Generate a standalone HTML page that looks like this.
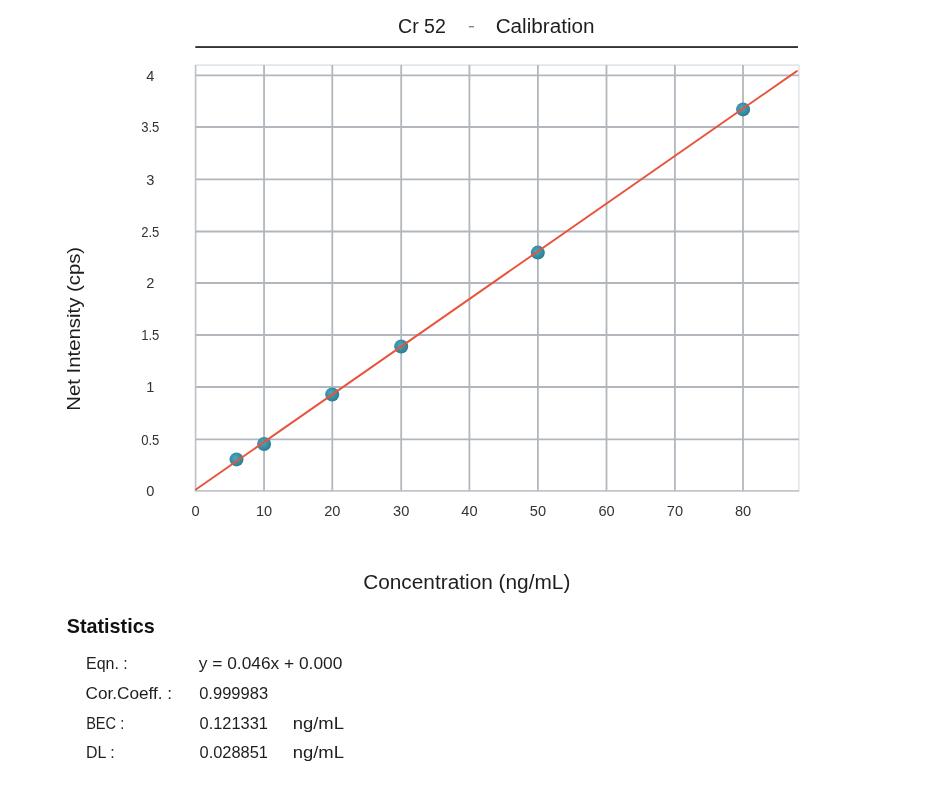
<!DOCTYPE html><html><head><meta charset="utf-8"><style>html,body{margin:0;padding:0;background:#fff;}svg{display:block;will-change:transform}text{font-family:"Liberation Sans",sans-serif;}</style></head><body>
<svg width="931" height="786" viewBox="0 0 931 786">
<rect width="931" height="786" fill="#fff"/>
<rect x="195.3" y="46.1" width="602.7" height="1.9" fill="#333"/>
<rect x="468.9" y="26.0" width="5.1" height="1.4" fill="#858585"/>
<line x1="195.5" y1="65.1" x2="798.9" y2="65.1" stroke="#e3e6e9" stroke-width="1.6"/>
<line x1="798.9" y1="65.1" x2="798.9" y2="491.7" stroke="#e3e6e9" stroke-width="1.6"/>
<line x1="195.60" y1="65.1" x2="195.60" y2="491.7" stroke="#c2c6cb" stroke-width="1.8"/>
<line x1="264.05" y1="65.1" x2="264.05" y2="491.7" stroke="#b2b7bd" stroke-width="1.8"/>
<line x1="332.30" y1="65.1" x2="332.30" y2="491.7" stroke="#b2b7bd" stroke-width="1.8"/>
<line x1="401.20" y1="65.1" x2="401.20" y2="491.7" stroke="#b2b7bd" stroke-width="1.8"/>
<line x1="469.40" y1="65.1" x2="469.40" y2="491.7" stroke="#b2b7bd" stroke-width="1.8"/>
<line x1="537.90" y1="65.1" x2="537.90" y2="491.7" stroke="#b2b7bd" stroke-width="1.8"/>
<line x1="606.50" y1="65.1" x2="606.50" y2="491.7" stroke="#b2b7bd" stroke-width="1.8"/>
<line x1="674.90" y1="65.1" x2="674.90" y2="491.7" stroke="#b2b7bd" stroke-width="1.8"/>
<line x1="743.00" y1="65.1" x2="743.00" y2="491.7" stroke="#b2b7bd" stroke-width="1.8"/>
<line x1="195.5" y1="490.85" x2="798.9" y2="490.85" stroke="#c2c6cb" stroke-width="1.8"/>
<line x1="195.5" y1="439.40" x2="798.9" y2="439.40" stroke="#b2b7bd" stroke-width="1.8"/>
<line x1="195.5" y1="387.00" x2="798.9" y2="387.00" stroke="#b2b7bd" stroke-width="1.8"/>
<line x1="195.5" y1="335.00" x2="798.9" y2="335.00" stroke="#b2b7bd" stroke-width="1.8"/>
<line x1="195.5" y1="283.00" x2="798.9" y2="283.00" stroke="#b2b7bd" stroke-width="1.8"/>
<line x1="195.5" y1="231.50" x2="798.9" y2="231.50" stroke="#b2b7bd" stroke-width="1.8"/>
<line x1="195.5" y1="179.30" x2="798.9" y2="179.30" stroke="#b2b7bd" stroke-width="1.8"/>
<line x1="195.5" y1="127.00" x2="798.9" y2="127.00" stroke="#b2b7bd" stroke-width="1.8"/>
<line x1="195.5" y1="75.40" x2="798.9" y2="75.40" stroke="#b2b7bd" stroke-width="1.8"/>
<text x="150.3" y="496.05" font-size="14.6" fill="#333" text-anchor="middle">0</text>
<text x="150.3" y="444.60" font-size="14.6" fill="#333" text-anchor="middle" textLength="18.2" lengthAdjust="spacingAndGlyphs">0.5</text>
<text x="150.3" y="392.20" font-size="14.6" fill="#333" text-anchor="middle">1</text>
<text x="150.3" y="340.20" font-size="14.6" fill="#333" text-anchor="middle" textLength="18.2" lengthAdjust="spacingAndGlyphs">1.5</text>
<text x="150.3" y="288.20" font-size="14.6" fill="#333" text-anchor="middle">2</text>
<text x="150.3" y="236.70" font-size="14.6" fill="#333" text-anchor="middle" textLength="18.2" lengthAdjust="spacingAndGlyphs">2.5</text>
<text x="150.3" y="184.50" font-size="14.6" fill="#333" text-anchor="middle">3</text>
<text x="150.3" y="132.20" font-size="14.6" fill="#333" text-anchor="middle" textLength="18.2" lengthAdjust="spacingAndGlyphs">3.5</text>
<text x="150.3" y="80.60" font-size="14.6" fill="#333" text-anchor="middle">4</text>
<text x="195.60" y="516" font-size="14.6" fill="#333" text-anchor="middle">0</text>
<text x="264.05" y="516" font-size="14.6" fill="#333" text-anchor="middle">10</text>
<text x="332.30" y="516" font-size="14.6" fill="#333" text-anchor="middle">20</text>
<text x="401.20" y="516" font-size="14.6" fill="#333" text-anchor="middle">30</text>
<text x="469.40" y="516" font-size="14.6" fill="#333" text-anchor="middle">40</text>
<text x="537.90" y="516" font-size="14.6" fill="#333" text-anchor="middle">50</text>
<text x="606.50" y="516" font-size="14.6" fill="#333" text-anchor="middle">60</text>
<text x="674.90" y="516" font-size="14.6" fill="#333" text-anchor="middle">70</text>
<text x="743.00" y="516" font-size="14.6" fill="#333" text-anchor="middle">80</text>
<text id="ytitle" transform="translate(80.1,410.73) rotate(-90)" x="0" y="0" font-size="18.5" fill="#1e1e1e" textLength="163.88" lengthAdjust="spacingAndGlyphs">Net Intensity (cps)</text>
<defs><radialGradient id="g" cx="0.42" cy="0.4" r="0.6"><stop offset="0" stop-color="#4aa8be"/><stop offset="1" stop-color="#2c7e94"/></radialGradient></defs>
<circle cx="236.50" cy="459.40" r="7.0" fill="url(#g)"/>
<circle cx="264.10" cy="444.00" r="7.0" fill="url(#g)"/>
<circle cx="332.20" cy="394.50" r="7.0" fill="url(#g)"/>
<circle cx="401.20" cy="346.50" r="7.0" fill="url(#g)"/>
<circle cx="537.80" cy="252.60" r="7.0" fill="url(#g)"/>
<circle cx="743.10" cy="109.40" r="7.0" fill="url(#g)"/>
<line x1="195.9" y1="489.45" x2="796.8" y2="71.1" stroke="#e9533d" stroke-width="1.9" stroke-linecap="round"/>
<text id="t_cr" x="398.02" y="33.2" font-size="20.0" fill="#1e1e1e" textLength="47.87" lengthAdjust="spacingAndGlyphs">Cr 52</text>
<text id="t_cal" x="495.66" y="33.2" font-size="20.0" fill="#1e1e1e" textLength="98.97" lengthAdjust="spacingAndGlyphs">Calibration</text>
<text id="xtitle" x="363.16" y="589.4" font-size="20.0" fill="#1e1e1e" textLength="207.17" lengthAdjust="spacingAndGlyphs">Concentration (ng/mL)</text>
<text id="stat" x="66.72" y="633.1" font-size="20.2" font-weight="bold" fill="#111" textLength="87.93" lengthAdjust="spacingAndGlyphs">Statistics</text>
<text id="l0" x="86.05" y="669.3" font-size="16.8" fill="#1e1e1e" textLength="41.77" lengthAdjust="spacingAndGlyphs">Eqn. :</text>
<text id="v0" x="198.80" y="669.3" font-size="16.8" fill="#1e1e1e" textLength="143.53" lengthAdjust="spacingAndGlyphs">y = 0.046x + 0.000</text>
<text id="l1" x="85.58" y="698.8" font-size="16.8" fill="#1e1e1e" textLength="86.54" lengthAdjust="spacingAndGlyphs">Cor.Coeff. :</text>
<text id="v1" x="199.20" y="698.8" font-size="16.8" fill="#1e1e1e" textLength="68.90" lengthAdjust="spacingAndGlyphs">0.999983</text>
<text id="l2" x="86.13" y="728.6" font-size="16.8" fill="#1e1e1e" textLength="38.10" lengthAdjust="spacingAndGlyphs">BEC :</text>
<text id="v2" x="199.50" y="728.6" font-size="16.8" fill="#1e1e1e" textLength="68.50" lengthAdjust="spacingAndGlyphs">0.121331</text>
<text id="u2" x="292.70" y="728.6" font-size="16.8" fill="#1e1e1e" textLength="51.30" lengthAdjust="spacingAndGlyphs">ng/mL</text>
<text id="l3" x="86.05" y="757.7" font-size="16.8" fill="#1e1e1e" textLength="28.65" lengthAdjust="spacingAndGlyphs">DL :</text>
<text id="v3" x="199.50" y="757.7" font-size="16.8" fill="#1e1e1e" textLength="68.50" lengthAdjust="spacingAndGlyphs">0.028851</text>
<text id="u3" x="292.70" y="757.7" font-size="16.8" fill="#1e1e1e" textLength="51.30" lengthAdjust="spacingAndGlyphs">ng/mL</text>
</svg></body></html>
